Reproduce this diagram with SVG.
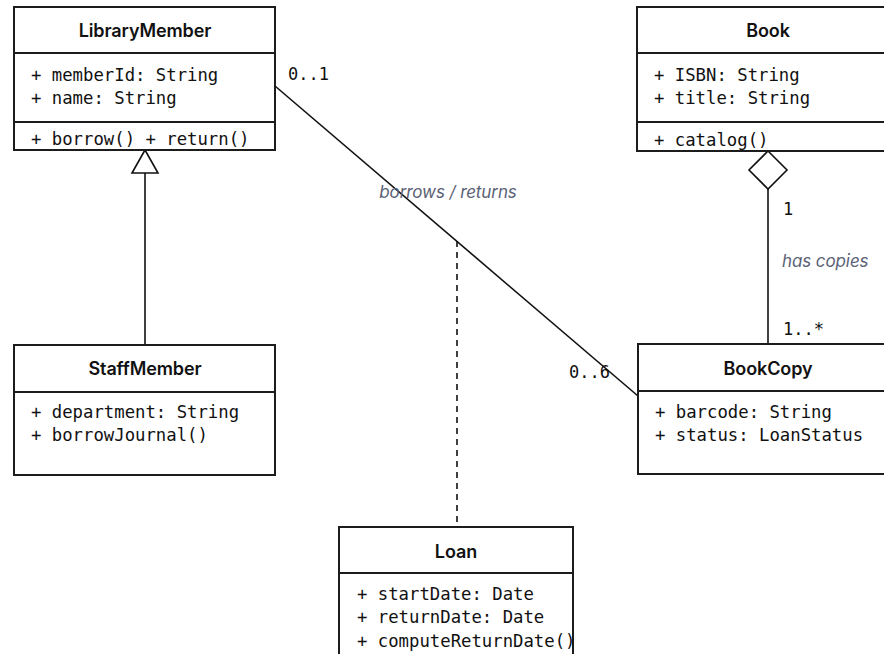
<svg xmlns="http://www.w3.org/2000/svg" width="884" height="654" viewBox="0 0 884 654">
  <style>
    .box { fill: #ffffff; stroke: #1c1c1c; stroke-width: 2; }
    .sep { stroke: #1c1c1c; stroke-width: 2; }
    .title { font-family: Inter, "Liberation Sans", sans-serif; font-weight: 600; font-size: 18px; fill: #111111; text-anchor: middle; letter-spacing: -0.1px; }
    .member { font-family: "DejaVu Sans Mono", "Liberation Mono", monospace; font-size: 17.3px; fill: #111111; }
    .edge { stroke: #111111; stroke-width: 1.6; fill: none; }
    .dash { stroke-dasharray: 6 5; }
    .mult { font-family: "DejaVu Sans Mono", "Liberation Mono", monospace; font-size: 17px; fill: #111111; }
    .role { font-family: Inter, "Liberation Sans", sans-serif; font-style: italic; font-size: 17px; fill: #5a6275; letter-spacing: -0.1px; }
  </style>
  <rect width="884" height="654" fill="#ffffff"/>

  <!-- associations and relations -->
  <g id="connectors">
    <!-- StaffMember generalizes LibraryMember -->
    <line class="edge" x1="145" y1="173" x2="145" y2="345"/>
    <polygon points="145,150 132,173 158,173" fill="#ffffff" stroke="#111111" stroke-width="1.6"/>
    <!-- Book aggregates BookCopy -->
    <line class="edge" x1="768" y1="189" x2="768" y2="344"/>
    <polygon points="768,151 787,170 768,189 749,170" fill="#ffffff" stroke="#111111" stroke-width="1.6"/>
    <!-- LibraryMember borrows BookCopy -->
    <line class="edge" x1="275" y1="86" x2="638" y2="396"/>
    <!-- Loan association class -->
    <line class="edge dash" x1="457" y1="241" x2="457" y2="527"/>
    <text class="role" x="448" y="198" text-anchor="middle">borrows / returns</text>
    <text class="mult" x="288" y="80">0..1</text>
    <text class="mult" x="569" y="378">0..6</text>
    <text class="mult" x="783" y="215">1</text>
    <text class="role" x="782" y="267">has copies</text>
    <text class="mult" x="783" y="335">1..*</text>
  </g>

  <g id="LibraryMember">
    <rect class="box" x="14" y="7" width="261" height="143"/>
    <line class="sep" x1="14" y1="53" x2="275" y2="53"/>
    <line class="sep" x1="14" y1="122" x2="275" y2="122"/>
    <text class="title" x="145" y="37">LibraryMember</text>
    <text class="member" x="31" y="81">+ memberId: String</text>
    <text class="member" x="31" y="104">+ name: String</text>
    <text class="member" x="31" y="145">+ borrow() + return()</text>
  </g>

  <g id="Book">
    <rect class="box" x="637" y="7" width="262" height="144"/>
    <line class="sep" x1="637" y1="53" x2="899" y2="53"/>
    <line class="sep" x1="637" y1="122" x2="899" y2="122"/>
    <text class="title" x="768" y="37">Book</text>
    <text class="member" x="654" y="81">+ ISBN: String</text>
    <text class="member" x="654" y="104">+ title: String</text>
    <text class="member" x="654" y="146">+ catalog()</text>
  </g>

  <g id="StaffMember">
    <rect class="box" x="14" y="345" width="261" height="130"/>
    <line class="sep" x1="14" y1="392" x2="275" y2="392"/>
    <text class="title" x="145" y="375">StaffMember</text>
    <text class="member" x="31" y="418">+ department: String</text>
    <text class="member" x="31" y="441">+ borrowJournal()</text>
  </g>

  <g id="BookCopy">
    <rect class="box" x="638" y="344" width="262" height="130"/>
    <line class="sep" x1="638" y1="391" x2="900" y2="391"/>
    <text class="title" x="768" y="375">BookCopy</text>
    <text class="member" x="655" y="418">+ barcode: String</text>
    <text class="member" x="655" y="441">+ status: LoanStatus</text>
  </g>

  <g id="Loan">
    <rect class="box" x="339" y="527" width="234" height="150"/>
    <line class="sep" x1="339" y1="573" x2="573" y2="573"/>
    <text class="title" x="456" y="558">Loan</text>
    <text class="member" x="357" y="600">+ startDate: Date</text>
    <text class="member" x="357" y="623">+ returnDate: Date</text>
    <text class="member" x="357" y="647">+ computeReturnDate()</text>
  </g>
</svg>
